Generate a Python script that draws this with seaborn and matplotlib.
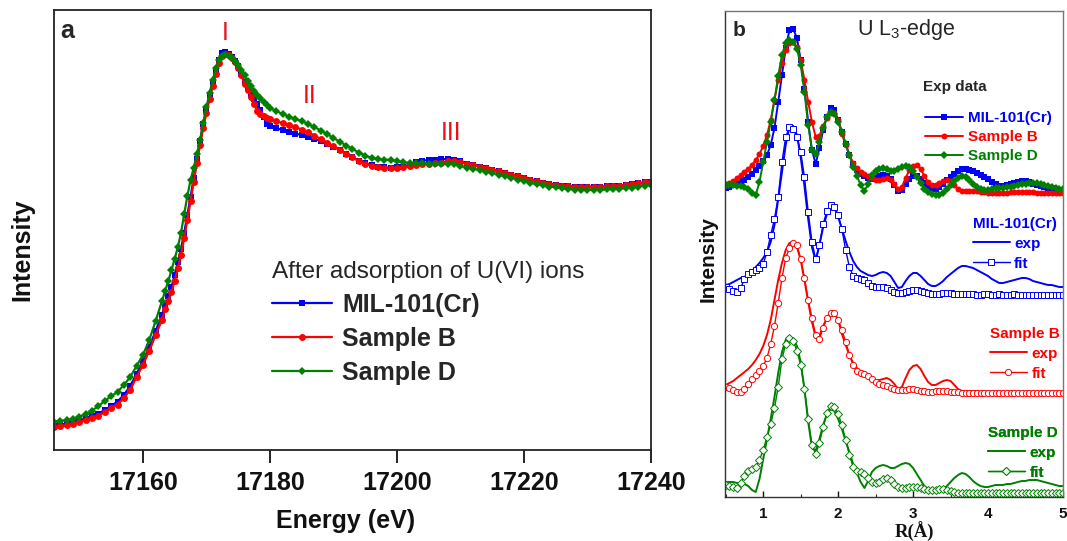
import numpy as np
import matplotlib
matplotlib.use("Agg")
import matplotlib.pyplot as plt
import seaborn as sns
from matplotlib.ticker import MultipleLocator

# ---------------- data: panel a (XANES, U L3-edge) ----------------
energy = [17146, 17147, 17148, 17149, 17150, 17151, 17152, 17153, 17154, 17155,
          17156, 17157, 17158, 17159, 17160, 17161, 17162, 17163,
          17163.5, 17164, 17164.5, 17165, 17165.5, 17166, 17166.5, 17167, 17167.5, 17168,
          17168.5, 17169, 17169.5, 17170, 17170.5, 17171, 17171.5, 17172, 17172.5, 17173,
          17173.5, 17174, 17174.5, 17175, 17175.5, 17176, 17176.5, 17177, 17177.5, 17178,
          17178.5, 17179, 17179.5, 17180,
          17181, 17182, 17183, 17184, 17185, 17186, 17187, 17188, 17189, 17190,
          17191, 17192, 17193, 17194, 17195, 17196, 17197, 17198, 17199, 17200,
          17201, 17202, 17203, 17204, 17205, 17206, 17207, 17208, 17209, 17210,
          17211, 17212, 17213, 17214, 17215, 17216, 17217, 17218, 17219, 17220,
          17221, 17222, 17223, 17224, 17225, 17226, 17227, 17228, 17229, 17230,
          17231, 17232, 17233, 17234, 17235, 17236, 17237, 17238, 17239, 17240]

xanes_mil = [25, 25.5, 26.5, 28, 29.5, 31.5, 34, 36.5, 40, 44,
             48.5, 55, 64, 76, 89, 103, 119, 135,
             145, 154, 163, 175, 188, 201, 217, 235, 253, 272,
             291, 309, 326, 340, 354, 367, 379, 390, 397, 398,
             396, 393, 389, 384, 376, 368, 362, 356, 351, 346,
             340, 333, 326, 324,
             322, 320, 318.5, 316.5, 314.8, 313, 311, 309, 306.5, 303.5,
             300, 296.5, 292.7, 289, 286.7, 285, 283.5, 282.7, 282.3, 282.7,
             283.2, 285.5, 288, 289.3, 290, 290.5, 290.8, 291, 290.5, 289,
             286.5, 285, 283.5, 282, 280.5, 278.8, 277.2, 275.5, 273.8, 272,
             270.5, 269, 267.5, 266, 265.2, 264.5, 264, 263.5, 263.3, 263.3,
             263.3, 263.5, 263.8, 264, 264.5, 265.2, 266, 266.8, 267.7, 268.3]

xanes_b = [23.3, 24, 25, 26.5, 28, 30, 32.5, 34.5, 38, 42,
           45.5, 52, 60, 73, 85, 99, 115, 130,
           141, 149, 158, 169, 182, 195, 212, 230, 249, 268,
           287, 305, 322, 337, 351, 364, 376, 387, 394, 396,
           395, 392, 388, 382, 375, 366, 360, 353, 346, 339,
           336, 334, 332.5, 331,
           329, 327, 325.2, 323, 320.5, 317.8, 314.5, 311, 307.5, 303.7,
           300, 296.5, 292.7, 289, 286.5, 284.3, 282.8, 282, 281.7, 282.2,
           283, 284, 285, 286, 286.3, 286.6, 287.5, 289, 289, 287.7,
           286.5, 285, 283.5, 282, 280.5, 278.8, 277.2, 275.5, 273.8, 272,
           270.5, 269, 267.5, 266, 265.2, 264.5, 264, 263.5, 263.3, 263.3,
           263.3, 263.5, 263.8, 264, 264.5, 265.2, 266, 266.8, 267.7, 268.3]

xanes_d = [28.3, 29, 30, 31.5, 33.5, 36, 39.5, 44, 49, 54,
           58, 65, 73, 84, 95, 110, 129, 149,
           159, 169, 180, 191, 203, 217, 236, 254, 270, 282,
           296, 310, 327, 343, 357, 370, 382, 390, 394, 395,
           394, 392, 389, 385, 380, 375, 369, 364, 359, 355,
           352, 348, 345, 342,
           339, 336, 333.5, 331, 329, 326, 323, 319.5, 316, 312,
           308.3, 304.5, 301, 297.5, 294.5, 292, 291, 290.5, 290, 289,
           287.7, 287, 286.8, 286.7, 286.5, 286.2, 286, 286.5, 286, 284,
           282.5, 281.3, 280, 278.5, 277, 275.5, 274, 272.2, 270.5, 269,
           267.2, 266, 264.7, 263.5, 262.7, 261.8, 261.2, 260.5, 260, 260,
           260, 260.2, 260.6, 261, 261.5, 262, 262.5, 263.5, 264.5, 265]

xanes_labels = ["MIL-101(Cr)", "Sample B", "Sample D"]
energy_ticks = [17160, 17180, 17200, 17220, 17240]

# ---------------- data: panel b (FT-EXAFS) ----------------
r_dist = [0.50, 0.55, 0.60, 0.65, 0.70, 0.75, 0.80, 0.85, 0.90, 0.95,
          1.00, 1.05, 1.10, 1.15, 1.20, 1.25, 1.30, 1.35, 1.40, 1.45,
          1.50, 1.55, 1.60, 1.65, 1.70, 1.75, 1.80, 1.85, 1.90, 1.95,
          2.00, 2.05, 2.10, 2.15, 2.20, 2.25, 2.30, 2.35, 2.40, 2.45,
          2.50, 2.55, 2.60, 2.65, 2.70, 2.75, 2.80, 2.85, 2.90, 2.95,
          3.00, 3.05, 3.10, 3.15, 3.20, 3.25, 3.30, 3.35, 3.40, 3.45,
          3.50, 3.55, 3.60, 3.65, 3.70, 3.75, 3.80, 3.85, 3.90, 3.95,
          4.00, 4.05, 4.10, 4.15, 4.20, 4.25, 4.30, 4.35, 4.40, 4.45,
          4.50, 4.55, 4.60, 4.65, 4.70, 4.75, 4.80, 4.85, 4.90, 4.95,
          5.00]

exp_mil = [12, 13, 15, 17, 19, 20, 23, 26, 30, 34,
           39, 45, 55, 72, 98, 125, 152, 170, 171, 162,
           140, 111, 78, 50, 36, 52, 70, 83, 92, 90,
           80, 68, 56, 45, 36, 30, 26, 24, 22, 21,
           22, 24, 25, 24, 21, 15, 9, 10, 16, 21,
           24, 24, 21, 17, 13, 11, 11, 13, 16, 20,
           23, 26, 29, 31, 31, 30, 29, 27, 25, 23,
           21, 18, 16, 14, 14, 15, 16, 17, 18, 19,
           19, 18, 16, 15, 14, 13, 12, 12, 11, 10,
           10]

exp_b = [15, 17, 19, 22, 25, 28, 31, 35, 40, 46,
         54, 65, 80, 100, 120, 137, 150, 157, 158, 153,
         140, 120, 98, 78, 63, 64, 74, 82, 87, 87,
         80, 66, 55, 45, 37, 32, 28, 26, 24, 22,
         20, 20, 21, 22, 20, 16, 11, 13, 22, 30,
         34, 35, 31, 24, 18, 15, 15, 17, 19, 20,
         19, 15, 11, 9, 9, 9, 9, 9, 8, 8,
         7, 7, 7, 7, 7, 7, 8, 8, 8, 8,
         8, 8, 8, 7, 7, 7, 7, 7, 7, 7,
         7]

exp_d = [15, 15, 15, 14, 14, 13, 11, 7, 5, 18,
         38, 58, 78, 100, 124, 145, 157, 160, 158, 151,
         135, 108, 75, 50, 46, 58, 72, 83, 88, 86,
         78, 68, 56, 45, 33, 24, 15, 9, 16, 25,
         29, 31, 32, 31, 29, 29, 31, 33, 34, 33,
         29, 23, 17, 11, 8, 6, 5, 5, 7, 11,
         15, 19, 22, 24, 23, 20, 16, 13, 11, 10,
         10, 11, 12, 12, 12, 13, 13, 14, 15, 16,
         16, 17, 17, 17, 16, 15, 14, 13, 12, 11,
         11]

fit_mil = [10, 8, 6, 5, 9, 18, 23, 25, 27, 29,
           33, 45, 62, 78, 100, 135, 160, 170, 168, 160,
           145, 120, 85, 55, 38, 52, 73, 86, 92, 90,
           82, 68, 47, 30, 21, 19, 18, 17, 14, 11,
           10, 10, 10, 9, 7, 5, 4, 4, 5, 6,
           7, 7, 6, 5, 4, 3, 3, 3, 4, 4,
           4, 3, 3, 3, 3, 3, 3, 2, 2, 3,
           3, 2, 2, 3, 2, 2, 2, 3, 2, 2,
           2, 2, 2, 2, 2, 2, 2, 2, 2, 2,
           2]

fit_b = [13, 12, 10, 8, 8, 11, 16, 21, 25, 29,
         34, 42, 56, 74, 97, 122, 142, 152, 157, 155,
         141, 122, 100, 82, 65, 61, 72, 82, 87, 87,
         80, 70, 58, 45, 35, 29, 27, 26, 24, 21,
         18, 16, 15, 14, 12, 11, 10, 10, 10, 11,
         11, 10, 9, 9, 8, 8, 9, 9, 9, 9,
         8, 8, 8, 7, 7, 7, 7, 7, 7, 7,
         7, 7, 7, 7, 7, 7, 7, 7, 7, 7,
         7, 7, 7, 7, 7, 7, 7, 7, 7, 7,
         7]

fit_d = [12, 11, 10, 9, 14, 21, 26, 28, 30, 37,
         47, 60, 73, 89, 110, 138, 153, 159, 156, 146,
         132, 108, 78, 52, 43, 54, 70, 84, 91, 90,
         83, 72, 57, 42, 30, 26, 25, 23, 19, 15,
         14, 15, 18, 19, 17, 13, 10, 9, 9, 10,
         10, 10, 9, 8, 7, 7, 7, 8, 8, 7,
         6, 5, 4, 4, 4, 4, 4, 4, 4, 4,
         4, 4, 4, 4, 4, 4, 4, 4, 4, 4,
         4, 4, 4, 4, 4, 4, 4, 4, 4, 4,
         4]

offset_top = 297
offset_mil = 200
offset_b = 97
offset_d = 0
r_ticks = [1, 2, 3, 4, 5]

# ---------------- style ----------------
sns.set_theme(style="ticks")
plt.rcParams["font.family"] = ["Liberation Sans", "DejaVu Sans"]
plt.rcParams["axes.unicode_minus"] = False

BLUE = "#0000ff"
RED = "#ff0000"
GREEN = "#008000"
ANN = "#e8101a"
W, H = 1067, 541


def fx(px):
    return px / W


def fy(py):
    return 1 - py / H


fig = plt.figure(figsize=(W / 100, H / 100), dpi=100)
axa = fig.add_axes([fx(54), fy(450), (651 - 54) / W, (450 - 10) / H])
axb = fig.add_axes([fx(725), fy(497), (1063 - 725) / W, (497 - 11) / H])

# ---------------- panel a ----------------
lines_a = []
for vals, col, mk, ms in [(xanes_mil, BLUE, "s", 4.6),
                          (xanes_b, RED, "o", 5.0),
                          (xanes_d, GREEN, "D", 4.2)]:
    sns.lineplot(x=energy, y=vals, ax=axa, color=col, marker=mk, markersize=ms,
                 markeredgewidth=0, linewidth=1.6, sort=False, estimator=None,
                 legend=False)
    lines_a.append(axa.lines[-1])

axa.set_xlim(17146, 17240)
axa.set_ylim(0, 440)
axa.set_yticks([])
axa.set_xticks(energy_ticks)
axa.tick_params(axis="x", direction="out", length=9, width=1.3, pad=6,
                labelsize=18, bottom=True, top=False, colors="#111111")
for lab in axa.get_xticklabels():
    lab.set_fontweight("bold")
for sp in axa.spines.values():
    sp.set_visible(True)
    sp.set_linewidth(1.3)
    sp.set_color("#222222")
axa.set_xlabel("Energy (eV)", fontsize=18, fontweight="bold", color="#111111")
axa.xaxis.set_label_coords(0.489, -0.135)
axa.set_ylabel("Intensity", fontsize=18, fontweight="bold", color="#111111")
axa.yaxis.set_label_coords(-0.033, 0.455)

leg_a = axa.legend(lines_a, xanes_labels, title="After adsorption of U(VI) ions",
                   loc="upper left", bbox_to_anchor=(fx(272), fy(261)),
                   bbox_transform=fig.transFigure, frameon=False,
                   prop={"weight": "bold", "size": 18}, title_fontsize=17.5,
                   handlelength=2.4, handletextpad=0.4, labelspacing=0.4,
                   borderpad=0, borderaxespad=0)
leg_a._legend_box.align = "left"
leg_a._legend_box._children[0].sep = 6

fig.text(fx(60), fy(31), "a", fontsize=18, fontweight="bold", va="center")
fig.text(fx(225), fy(33), "I", fontsize=18, color=ANN, ha="center", va="center")
fig.text(fx(310), fy(96), "II", fontsize=18, color=ANN, ha="center", va="center")
fig.text(fx(451), fy(133), "III", fontsize=18, color=ANN, ha="center", va="center")

# ---------------- panel b ----------------
r = np.array(r_dist)
top_lines = []
for vals, col, mk, ms in [(exp_mil, BLUE, "s", 4.0),
                          (exp_b, RED, "o", 4.3),
                          (exp_d, GREEN, "D", 3.6)]:
    sns.lineplot(x=r, y=np.array(vals) + offset_top, ax=axb, color=col, marker=mk,
                 markersize=ms, markeredgewidth=0, linewidth=1.4, sort=False,
                 estimator=None, legend=False)
    top_lines.append(axb.lines[-1])

group_handles = []
for ev, fv, off, col, mk in [(exp_mil, fit_mil, offset_mil, BLUE, "s"),
                             (exp_b, fit_b, offset_b, RED, "o"),
                             (exp_d, fit_d, offset_d, GREEN, "D")]:
    sns.lineplot(x=r, y=np.array(ev) + off, ax=axb, color=col, linewidth=1.4,
                 sort=False, estimator=None, legend=False)
    le = axb.lines[-1]
    sns.lineplot(x=r, y=np.array(fv) + off, ax=axb, color=col, linewidth=1.0,
                 marker=mk, markersize=4.5 if mk != "D" else 4.0,
                 markerfacecolor="white", markeredgecolor=col,
                 markeredgewidth=0.7, sort=False, estimator=None, legend=False)
    lf = axb.lines[-1]
    group_handles.append((le, lf))

axb.set_xlim(0.49, 5.0)
axb.set_ylim(0, 486)
axb.set_yticks([])
axb.set_xticks(r_ticks)
axb.xaxis.set_minor_locator(MultipleLocator(0.5))
axb.tick_params(axis="x", which="major", direction="in", length=4, width=1.0,
                pad=7, labelsize=11, bottom=True, top=False, colors="#111111")
axb.tick_params(axis="x", which="minor", direction="in", length=2.5, width=0.8,
                bottom=True, top=False)
for lab in axb.get_xticklabels():
    lab.set_fontweight("bold")
for name, sp in axb.spines.items():
    sp.set_visible(True)
    sp.set_linewidth(1.0)
    sp.set_color("#333333" if name in ("left", "bottom") else "#777777")
axb.set_xlabel("R(Å)", fontsize=13.5, fontweight="bold",
               family=["Liberation Serif", "DejaVu Serif"], color="#111111")
axb.xaxis.set_label_coords((914 - 725) / 338, -0.052)
axb.set_ylabel("Intensity", fontsize=15, fontweight="bold", color="#111111")
axb.yaxis.set_label_coords(-0.022, 0.49)

fig.text(fx(733), fy(31), "b", fontsize=15, fontweight="bold", va="center")
fig.text(fx(857), fy(30), r"U L$_\mathregular{3}$-edge", fontsize=15.5, va="center")
fig.text(fx(923), fy(87), "Exp data", fontsize=11, fontweight="bold", va="center")

leg_top = axb.legend(top_lines, xanes_labels, loc="upper left",
                     bbox_to_anchor=(fx(925), fy(111)), bbox_transform=fig.transFigure,
                     frameon=False, prop={"weight": "bold", "size": 11},
                     handlelength=2.5, handletextpad=0.3, labelspacing=0.34,
                     borderpad=0, borderaxespad=0, labelcolor="linecolor")
axb.add_artist(leg_top)

for (le, lf), name, col, x0, ytop in zip(group_handles, xanes_labels,
                                        [BLUE, RED, GREEN],
                                        [973, 990, 988], [217, 327, 426]):
    lg = axb.legend([le, lf], ["exp", "fit"], title=name, loc="upper left",
                    bbox_to_anchor=(fx(x0), fy(ytop)), bbox_transform=fig.transFigure,
                    frameon=False, prop={"weight": "bold", "size": 11},
                    title_fontproperties={"weight": "bold", "size": 11},
                    handlelength=2.4, handletextpad=0.3, labelspacing=0.38,
                    borderpad=0, borderaxespad=0, labelcolor=col)
    lg.get_title().set_color(col)
    lg._legend_box.align = "left"
    lg._legend_box._children[0].sep = 5
    axb.add_artist(lg)

fig.savefig("out.png", dpi=100)
